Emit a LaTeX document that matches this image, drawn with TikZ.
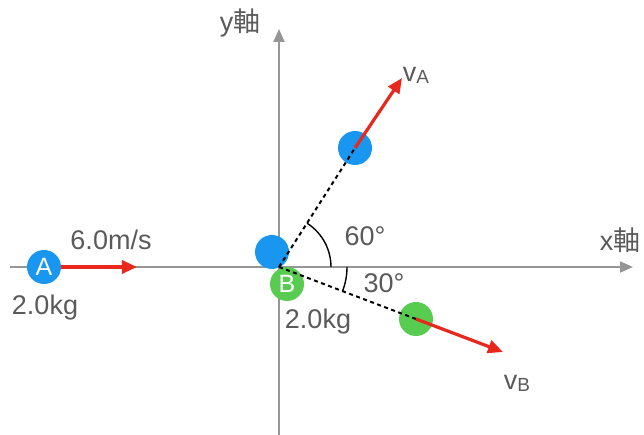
\documentclass[tikz,border=0pt]{standalone}
\usepackage{fontspec}
\setmainfont{Liberation Sans}
\newfontfamily\jpfont{Noto Sans CJK JP}
\usetikzlibrary{arrows.meta}

\definecolor{BallBlue}{RGB}{24,150,240}
\definecolor{BallGreen}{RGB}{88,204,80}
\definecolor{VelRed}{RGB}{232,40,28}
\definecolor{AxisGrey}{RGB}{150,150,150}
\definecolor{TextGrey}{RGB}{90,90,90}

\newcommand{\subv}[1]{v\raisebox{-2pt}{\fontsize{19}{21}\selectfont #1}}

\tikzset{
  ball/.style={circle, minimum size=34pt, inner sep=0pt, text=white, font=\fontsize{25}{28}\selectfont},
  axis/.style={AxisGrey, line width=2pt, -{Triangle[length=13pt,width=11pt]}},
  vel/.style={VelRed, line width=3.2pt, -{Triangle[length=15pt,width=13pt]}},
  track/.style={black, line width=2pt, dash pattern=on 4pt off 3.5pt},
  anglearc/.style={black, line width=1.4pt},
  lbl/.style={text=TextGrey, font=\fontsize{27}{30}\selectfont, inner sep=0pt}
}

\begin{document}
\begin{tikzpicture}[x=1pt, y=1pt]
  \useasboundingbox (-279,-168) rectangle (365,267);

  % axes
  \coordinate (xs) at (-269,0);
  \coordinate (xe) at (354,0);
  \coordinate (ys) at (0,-168);
  \coordinate (ye) at (0,238);
  \coordinate (O) at (0,0);
  \draw[axis] (xs) -- (xe);
  \draw[axis] (ys) -- (ye);
  \node[lbl] (xlab) at (341,27) {x{\jpfont 軸}};
  \node[lbl] (ylab) at (-39,244) {y{\jpfont 軸}};

  % ball A before collision
  \node[ball, fill=BallBlue] (A) at (-235,0) {A};
  \coordinate (vAin) at (-142,0);
  \draw[vel] (A.east) -- (vAin);
  \node[lbl] (speed) at (-168,27) {6.0m/s};
  \node[lbl] (massA) at (-234,-41) {2.0kg};

  % balls at the moment of collision
  \node[ball, fill=BallBlue] (A0) at (-7,15) {};
  \node[ball, fill=BallGreen] (B) at (8,-17) {B};
  \node[lbl] (massB) at (39,-55) {2.0kg};

  % balls after collision
  \node[ball, fill=BallBlue] (A1) at (76,119) {};
  \node[ball, fill=BallGreen] (B1) at (137,-52) {};
  \draw[track] (O) -- (A1.center);
  \draw[track] (O) -- (B1.center);
  \coordinate (vAtip) at (123,189);
  \coordinate (vBtip) at (224,-85);
  \draw[vel] (A1.center) -- (vAtip);
  \draw[vel] (B1.center) -- (vBtip);
  \node[lbl] (vAlab) at (137,192) {\subv{A}};
  \node[lbl] (vBlab) at (238,-116) {\subv{B}};

  % angles
  \draw[anglearc] (52,0) arc (0:57.4:52);
  \draw[anglearc] (68,0) arc (0:-20.8:68);
  \node[lbl] (ang60) at (86,31) {60°};
  \node[lbl] (ang30) at (105,-16) {30°};
\end{tikzpicture}
\end{document}
